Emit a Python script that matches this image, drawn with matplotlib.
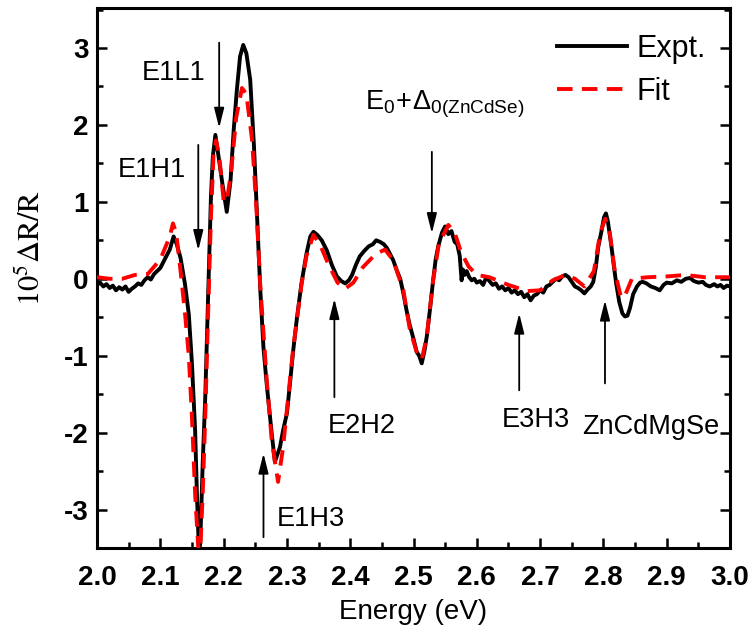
import matplotlib
matplotlib.use("Agg")
import matplotlib.pyplot as plt
from matplotlib.ticker import MultipleLocator

# ---------------- data ----------------
expt_energy = [2.000, 2.005, 2.010, 2.015, 2.020, 2.025, 2.030, 2.035, 2.040, 2.045,
               2.050, 2.055, 2.060, 2.065, 2.070, 2.075, 2.080, 2.085, 2.090, 2.095,
               2.100, 2.105, 2.110, 2.115, 2.121, 2.126, 2.132, 2.139, 2.145, 2.150,
               2.155, 2.158, 2.161, 2.163, 2.167, 2.171, 2.174, 2.177, 2.180, 2.183,
               2.187, 2.192, 2.198, 2.205, 2.211, 2.216, 2.221, 2.226, 2.231, 2.236,
               2.242, 2.248, 2.253, 2.258, 2.263, 2.268, 2.276, 2.281, 2.289, 2.294,
               2.300, 2.305, 2.310, 2.316, 2.323, 2.331, 2.337, 2.342, 2.348, 2.355,
               2.363, 2.371, 2.379, 2.386, 2.392, 2.398, 2.403, 2.409, 2.415, 2.422,
               2.429, 2.436, 2.441, 2.447, 2.453, 2.458, 2.463, 2.468, 2.474, 2.479,
               2.484, 2.489, 2.494, 2.500, 2.505, 2.509, 2.513, 2.517, 2.521, 2.526,
               2.531, 2.535, 2.539, 2.545, 2.550, 2.555, 2.560, 2.565, 2.569, 2.573,
               2.576, 2.578, 2.581, 2.584, 2.588, 2.592, 2.596, 2.600, 2.605, 2.610,
               2.615, 2.620, 2.625, 2.630, 2.635, 2.640, 2.645, 2.650, 2.655, 2.660,
               2.665, 2.670, 2.675, 2.680, 2.685, 2.690, 2.695, 2.700, 2.705, 2.710,
               2.715, 2.720, 2.725, 2.730, 2.735, 2.740, 2.745, 2.750, 2.755, 2.760,
               2.765, 2.770, 2.775, 2.780, 2.784, 2.788, 2.792, 2.797, 2.801, 2.804,
               2.807, 2.810, 2.813, 2.816, 2.820, 2.825, 2.830, 2.834, 2.838, 2.842,
               2.847, 2.853, 2.858, 2.862, 2.868, 2.875, 2.882, 2.889, 2.895, 2.900,
               2.908, 2.916, 2.923, 2.930, 2.937, 2.943, 2.950, 2.957, 2.962, 2.968,
               2.975, 2.980, 2.985, 2.990, 2.995, 3.000]
expt_signal = [-0.08, -0.05, -0.10, -0.07, -0.12, -0.09, -0.15, -0.11, -0.14, -0.10,
               -0.17, -0.13, -0.10, -0.06, -0.08, -0.02, 0.02, -0.01, 0.06, 0.10,
               0.14, 0.22, 0.30, 0.38, 0.55, 0.45, 0.27, -0.07, -0.46, -1.10,
               -1.97, -2.84, -3.53, -3.45, -2.40, -1.54, -0.67, 0.20, 1.06, 1.59,
               1.87, 1.59, 1.24, 0.87, 1.28, 1.94, 2.46, 2.89, 3.04, 2.93,
               2.59, 1.72, 0.80, -0.15, -0.90, -1.36, -2.01, -2.38, -2.19, -1.97,
               -1.75, -1.35, -0.93, -0.50, -0.06, 0.33, 0.55, 0.61, 0.57, 0.50,
               0.37, 0.18, 0.03, -0.03, -0.06, -0.02, 0.05, 0.18, 0.29, 0.36,
               0.42, 0.45, 0.50, 0.48, 0.45, 0.40, 0.32, 0.24, 0.10, 0.00,
               -0.19, -0.41, -0.60, -0.78, -0.95, -1.00, -1.10, -0.95, -0.75, -0.40,
               -0.02, 0.25, 0.42, 0.60, 0.68, 0.58, 0.62, 0.48, 0.45, 0.30,
               -0.02, 0.12, 0.05, 0.10, 0.02, -0.02, 0.00, -0.05, -0.03, -0.08,
               0.02, -0.03, -0.08, -0.06, -0.13, -0.10, -0.15, -0.12, -0.18, -0.15,
               -0.20, -0.17, -0.24, -0.20, -0.28, -0.22, -0.20, -0.15, -0.18, -0.10,
               -0.08, -0.04, 0.00, -0.02, 0.03, 0.05, 0.02, -0.04, -0.10, -0.12,
               -0.15, -0.19, -0.14, -0.10, -0.04, 0.15, 0.42, 0.62, 0.80, 0.85,
               0.75, 0.58, 0.40, 0.20, -0.05, -0.30, -0.45, -0.49, -0.48, -0.38,
               -0.20, -0.10, -0.05, -0.04, -0.06, -0.10, -0.12, -0.15, -0.08, -0.05,
               -0.06, -0.02, -0.04, 0.00, 0.01, -0.03, -0.05, -0.04, -0.08, -0.10,
               -0.07, -0.10, -0.08, -0.12, -0.09, -0.10]

fit_energy = [2.000, 2.020, 2.040, 2.060, 2.080, 2.100, 2.115, 2.120, 2.125, 2.132,
              2.139, 2.145, 2.150, 2.155, 2.160, 2.163, 2.167, 2.171, 2.175, 2.180,
              2.184, 2.188, 2.193, 2.200, 2.205, 2.212, 2.220, 2.229, 2.236, 2.245,
              2.252, 2.258, 2.268, 2.276, 2.286, 2.294, 2.300, 2.310, 2.323, 2.331,
              2.342, 2.352, 2.365, 2.380, 2.392, 2.405, 2.420, 2.440, 2.455, 2.468,
              2.484, 2.494, 2.505, 2.513, 2.521, 2.531, 2.540, 2.555, 2.565, 2.575,
              2.587, 2.600, 2.620, 2.650, 2.680, 2.700, 2.720, 2.740, 2.755, 2.770,
              2.785, 2.795, 2.803, 2.810, 2.818, 2.828, 2.835, 2.845, 2.870, 2.900,
              2.930, 2.960, 3.000]
fit_signal = [0.02, 0.00, 0.00, 0.05, 0.06, 0.25, 0.55, 0.72, 0.60, 0.10,
              -0.45, -1.00, -1.80, -2.80, -3.50, -3.55, -2.80, -1.80, -0.60, 0.80,
              1.60, 1.80, 1.60, 1.02, 1.00, 1.40, 2.10, 2.48, 2.40, 1.80,
              0.90, -0.10, -1.30, -2.10, -2.64, -2.19, -1.70, -0.90, -0.08, 0.30,
              0.57, 0.45, 0.20, -0.05, -0.13, -0.05, 0.15, 0.32, 0.38, 0.24,
              -0.15, -0.65, -0.95, -1.05, -0.75, -0.02, 0.45, 0.70, 0.60, 0.35,
              0.16, 0.05, 0.02, -0.08, -0.16, -0.15, -0.02, 0.05, 0.00, -0.10,
              0.10, 0.60, 0.78, 0.60, 0.10, -0.25, -0.20, 0.00, 0.02, 0.03,
              0.05, 0.02, 0.02]

x_ticks = [2.0, 2.1, 2.2, 2.3, 2.4, 2.5, 2.6, 2.7, 2.8, 2.9, 3.0]
y_ticks = [-3, -2, -1, 0, 1, 2, 3]

# annotations: label, text position (E, v), arrow base (E, v), arrow tip (E, v)
ann_labels = ["E1L1", "E1H1", r"$\mathregular{E_0\!+\!\Delta_{0(ZnCdSe)}}$",
              "E1H3", "E2H2", "E3H3", "ZnCdMgSe"]
ann_text_xy = [(2.071, 2.59), (2.032, 1.32), (2.424, 2.20), (2.284, -3.21),
               (2.365, -2.00), (2.640, -1.93), (2.766, -2.02)]
ann_base_xy = [(2.193, 3.07), (2.160, 1.74), (2.529, 1.65), (2.263, -3.36),
               (2.375, -1.54), (2.667, -1.45), (2.8025, -1.36)]
ann_tip_xy = [(2.193, 1.96), (2.160, 0.37), (2.529, 0.59), (2.263, -2.27),
              (2.375, -0.26), (2.667, -0.45), (2.8025, -0.28)]

# ---------------- figure ----------------
plt.rcParams['mathtext.fontset'] = 'custom'
plt.rcParams['mathtext.rm'] = 'Liberation Sans'

sans = ['Liberation Sans', 'DejaVu Sans']

fig = plt.figure(figsize=(7.56, 6.38), dpi=100)
ax = fig.add_axes([97/756, 1 - 548/638, (730 - 97)/756, (548 - 8)/638])

ax.plot(expt_energy, expt_signal, color='black', lw=2.8, label='Expt.', zorder=2)
ax.plot(fit_energy, fit_signal, color='red', lw=2.8, ls=(0, (4.0, 2.4)), label='Fit', zorder=3)

ax.set_xlim(2.0, 3.0)
ax.set_ylim(-3.5, 3.52)
ax.set_xticks(x_ticks)
ax.set_yticks(y_ticks)
ax.set_xticklabels([f"{t:.1f}" for t in x_ticks])
ax.set_yticklabels([str(t) for t in y_ticks])
ax.xaxis.set_minor_locator(MultipleLocator(0.05))
ax.yaxis.set_minor_locator(MultipleLocator(0.5))

for s in ax.spines.values():
    s.set_linewidth(2.2)
ax.tick_params(which='both', direction='in', top=False, right=True, width=1.8)
ax.tick_params(which='major', length=7)
ax.tick_params(which='minor', length=4)
ax.tick_params(axis='x', which='major', pad=12)
ax.tick_params(axis='y', which='major', pad=6)
for lab in ax.get_xticklabels() + ax.get_yticklabels():
    lab.set_fontfamily('Liberation Sans')
    lab.set_fontweight('bold')
    lab.set_fontsize(20)

ax.set_xlabel('Energy (eV)', fontsize=20, family=sans, labelpad=6)
ax.set_ylabel(r'$\mathrm{10^5\Delta R/R}$', fontsize=22, math_fontfamily='stix')
ax.yaxis.set_label_coords(-0.104, 0.556)
ax.yaxis.label.set_va('center')

for lab, txy, bxy, pxy in zip(ann_labels, ann_text_xy, ann_base_xy, ann_tip_xy):
    ax.text(txy[0], txy[1], lab, fontsize=19.5, family=sans, ha='left', va='baseline')
    ax.annotate('', xy=pxy, xytext=bxy,
                arrowprops=dict(arrowstyle='-|>,head_length=0.8,head_width=0.2',
                                color='black', lw=1.3, mutation_scale=15,
                                shrinkA=0, shrinkB=0))

leg = ax.legend(loc='upper left', bbox_to_anchor=(557/756, 1 - 34/638),
                bbox_transform=fig.transFigure, frameon=False,
                prop={'family': sans, 'size': 22},
                handlelength=2.3, handletextpad=0.3, labelspacing=0.42,
                borderpad=0, borderaxespad=0)

fig.savefig('out.png', dpi=100)
